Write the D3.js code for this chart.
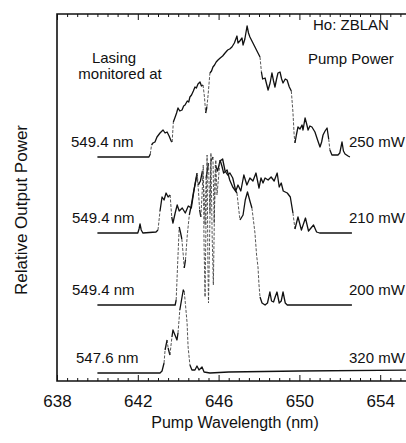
<!DOCTYPE html>
<html>
<head>
<meta charset="utf-8">
<script src="https://cdn.jsdelivr.net/npm/d3@7"></script>
<style>
  body { margin: 0; background: #fff; }
  text { font-family: "Liberation Sans", Arial, Helvetica, sans-serif; fill: #111; }
</style>
</head>
<body>
<div id="chart"></div>
<script>
// spectra: [pump wavelength (nm), relative output above the trace's own zero]
var trace250 = [[640.0, 0], [642.55, 0], [642.62, 3], [642.68, 12], [642.75, 14], [642.85, 15], [642.95, 20], [643.1, 24], [643.25, 27], [643.35, 24], [643.45, 25], [643.55, 21], [643.65, 16], [643.7, 15], [643.76, 35], [643.85, 40], [643.92, 44], [643.99, 49], [644.08, 46], [644.19, 47], [644.27, 51], [644.34, 52], [644.45, 56], [644.52, 55], [644.58, 60], [644.66, 62], [644.75, 66], [644.83, 70], [644.9, 69], [644.98, 73], [645.08, 75], [645.15, 71], [645.23, 72], [645.3, 60], [645.36, 44], [645.42, 50], [645.48, 62], [645.57, 84], [645.65, 86], [645.72, 90], [645.8, 92], [645.88, 95], [645.97, 97], [646.08, 99], [646.2, 101], [646.32, 104], [646.45, 107], [646.55, 108], [646.66, 110], [646.78, 114], [646.91, 121], [646.96, 114], [647.05, 116], [647.16, 119], [647.21, 112], [647.3, 118], [647.41, 131], [647.48, 124], [647.55, 120], [647.65, 116], [647.8, 110], [647.95, 104], [648.05, 100], [648.12, 85], [648.18, 78], [648.3, 79], [648.45, 67], [648.55, 74], [648.64, 84], [648.72, 76], [648.79, 70], [648.87, 78], [648.94, 84], [649.04, 85], [649.12, 78], [649.19, 74], [649.3, 78], [649.39, 77], [649.5, 70], [649.6, 66], [649.68, 45], [649.74, 22], [649.78, 14], [649.85, 22], [649.93, 30], [650.03, 28], [650.13, 32], [650.18, 27], [650.28, 39], [650.36, 33], [650.43, 27], [650.52, 31], [650.62, 30], [650.77, 25], [650.9, 17], [651.02, 10], [651.1, 15], [651.17, 22], [651.27, 26], [651.37, 29], [651.45, 18], [651.51, 7], [651.61, 2], [651.91, 2], [652.0, 4], [652.11, 15], [652.18, 6], [652.26, 3], [652.41, 1], [652.5, 0]]

var trace210 = [[640.0, 0], [642.0, 0], [642.06, 4], [642.11, 9], [642.17, 3], [642.25, 0], [642.9, 1], [643.0, 3], [643.1, 22], [643.2, 36], [643.3, 33], [643.4, 40], [643.5, 36], [643.6, 38], [643.68, 16], [643.74, 10], [643.85, 20], [643.95, 28], [644.05, 22], [644.2, 25], [644.35, 20], [644.5, 27], [644.65, 25], [644.8, 45], [644.93, 60], [645.0, 48], [645.1, 52], [645.2, 62], [645.28, 40], [645.33, 8], [645.38, 55], [645.5, 70], [645.57, 20], [645.62, 72], [645.72, 76], [645.78, 10], [645.84, 68], [645.95, 62], [646.07, 72], [646.2, 74], [646.32, 62], [646.45, 58], [646.56, 60], [646.7, 55], [646.85, 42], [646.96, 48], [647.1, 42], [647.25, 58], [647.4, 48], [647.55, 55], [647.7, 52], [647.85, 60], [648.0, 45], [648.1, 55], [648.2, 50], [648.3, 55], [648.45, 53], [648.6, 56], [648.75, 52], [648.9, 60], [649.0, 46], [649.1, 50], [649.2, 42], [649.4, 40], [649.55, 36], [649.68, 20], [649.78, 4], [649.93, 16], [650.1, 3], [650.3, 15], [650.45, 2], [650.7, 8], [650.85, 1], [651.0, 0], [652.6, 0]]

var trace200 = [[640.0, 0], [643.85, 0], [643.9, 5], [643.97, 40], [644.05, 78], [644.12, 72], [644.18, 66], [644.25, 50], [644.3, 37], [644.36, 45], [644.45, 70], [644.55, 90], [644.65, 100], [644.75, 112], [644.85, 122], [644.93, 130], [645.0, 115], [645.06, 95], [645.12, 88], [645.18, 110], [645.24, 140], [645.28, 60], [645.33, 8], [645.38, 90], [645.43, 150], [645.47, 40], [645.5, 2], [645.55, 60], [645.62, 152], [645.68, 70], [645.74, 20], [645.8, 100], [645.86, 145], [645.92, 110], [646.0, 128], [646.07, 145], [646.15, 140], [646.25, 132], [646.42, 135], [646.55, 125], [646.7, 118], [646.91, 112], [647.0, 95], [647.06, 85], [647.15, 88], [647.21, 90], [647.32, 105], [647.43, 113], [647.55, 104], [647.65, 97], [647.8, 72], [647.88, 50], [647.95, 38], [648.0, 20], [648.05, 8], [648.15, 2], [648.3, 0], [648.42, 2], [648.54, 13], [648.62, 4], [648.72, 3], [648.8, 8], [648.89, 13], [649.0, 2], [649.1, 4], [649.19, 13], [649.3, 2], [649.4, 0], [652.6, 0]]

var trace320 = [[640.0, 0], [643.1, 0], [643.2, 2], [643.3, 10], [643.35, 23], [643.45, 33], [643.5, 25], [643.59, 18], [643.69, 36], [643.74, 43], [643.84, 38], [643.94, 33], [643.99, 40], [644.08, 63], [644.19, 76], [644.25, 83], [644.3, 81], [644.34, 73], [644.44, 50], [644.49, 26], [644.58, 8], [644.68, 3], [644.83, 3], [644.93, 7], [645.03, 3], [645.18, 6], [645.28, 1], [645.57, 0], [646.5, 1], [650.0, 2], [656.0, 3]]

var traces = [trace250, trace210, trace200, trace320]
var offsets = [224, 148, 76, 8]              // vertical stacking of each trace
var lasingLabels = ['549.4 nm', '549.4 nm', '549.4 nm', '547.6 nm']
var lasingX = [71, 72, 72, 76]
var powerLabels = ['250 mW', '210 mW', '200 mW', '320 mW']
var majorTicks = [638, 642, 646, 650, 654]

var width = 406
var height = 443

var svg = d3.select('#chart').append('svg')
    .attr('width', width)
    .attr('height', height)

var x = d3.scaleLinear().domain([638, 656]).range([57, 420.6])
var y = d3.scaleLinear().domain([0, 367]).range([381, 14])

var minorTicks = d3.range(638, 656.01, 0.5).filter(function (d) { return d % 4 !== 2 })

// frame (right side runs off the page, as in the scan)
svg.append('path')
    .attr('d', 'M' + x(656) + ',' + y(367) + 'H' + x(638) + 'V' + y(0) + 'H' + x(656))
    .attr('fill', 'none')
    .attr('stroke', '#111')
    .attr('stroke-width', 1.6)

function ticks(g, axis, size, values, labels) {
    g.call(axis.tickValues(values).tickSize(size).tickPadding(14)
        .tickFormat(labels ? d3.format('d') : ''))
    g.select('.domain').remove()
    g.selectAll('line').attr('stroke', '#111')
    g.selectAll('text').style('font-size', '17px').attr('fill', '#111')
}

var gb = svg.append('g').attr('transform', 'translate(0,' + y(0) + ')')
ticks(gb, d3.axisBottom(x), -6, majorTicks, true)
var gbm = svg.append('g').attr('transform', 'translate(0,' + y(0) + ')')
ticks(gbm, d3.axisBottom(x), -3, minorTicks, false)
var gt = svg.append('g').attr('transform', 'translate(0,' + y(367) + ')')
ticks(gt, d3.axisTop(x), -6, majorTicks, false)
var gtm = svg.append('g').attr('transform', 'translate(0,' + y(367) + ')')
ticks(gtm, d3.axisTop(x), -3, minorTicks, false)

// spectra: steep stretches come out faint and broken in the recorder trace
traces.forEach(function (t, i) {
    var line = d3.line()
        .x(function (d) { return x(d[0]) })
        .y(function (d) { return y(d[1] + offsets[i]) })

    var runs = []
    for (var k = 1; k < t.length; k++) {
        var dx = x(t[k][0]) - x(t[k - 1][0])
        var dy = Math.abs(y(t[k][1]) - y(t[k - 1][1]))
        var steep = dy / dx > 7
        var last = runs[runs.length - 1]
        if (last && last.steep === steep) {
            last.pts.push(t[k])
        } else {
            runs.push({ steep: steep, pts: [t[k - 1], t[k]] })
        }
    }

    svg.selectAll(null)
        .data(runs)
        .enter().append('path')
        .attr('d', function (r) { return line(r.pts) })
        .attr('fill', 'none')
        .attr('stroke', function (r) { return r.steep ? '#444' : '#111' })
        .attr('stroke-width', function (r) { return r.steep ? 0.9 : 1.3 })
        .attr('stroke-dasharray', function (r) { return r.steep ? '3,1.5' : null })
        .attr('stroke-linejoin', 'round')

    svg.append('text')
        .attr('x', lasingX[i])
        .attr('y', y(offsets[i]) - 10)
        .style('font-size', '15px')
        .text(lasingLabels[i])

    svg.append('text')
        .attr('x', 349)
        .attr('y', y(offsets[i]) - 10)
        .style('font-size', '15px')
        .text(powerLabels[i])
})

// annotations
svg.append('text').attr('x', 313).attr('y', 30).style('font-size', '15px').text('Ho: ZBLAN')
svg.append('text').attr('x', 308).attr('y', 64).style('font-size', '15px').text('Pump Power')
svg.append('text').attr('x', 114).attr('y', 63).attr('text-anchor', 'middle').style('font-size', '15px').text('Lasing')
svg.append('text').attr('x', 120).attr('y', 79).attr('text-anchor', 'middle').style('font-size', '15px').text('monitored at')

// axis titles
svg.append('text')
    .attr('x', 235)
    .attr('y', 428)
    .attr('text-anchor', 'middle')
    .style('font-size', '16px')
    .text('Pump Wavelength (nm)')

svg.append('text')
    .attr('transform', 'translate(27,' + 210 + ') rotate(-90)')
    .attr('text-anchor', 'middle')
    .style('font-size', '17px')
    .text('Relative Output Power')
</script>
</body>
</html>
